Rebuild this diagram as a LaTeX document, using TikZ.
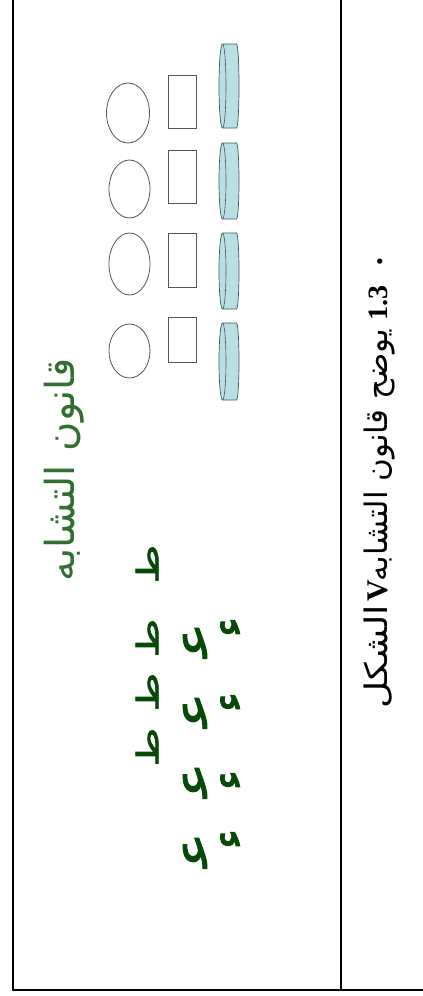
\documentclass[tikz,border=0pt]{standalone}
\usepackage{fontspec}
\setmainfont{Liberation Serif}
\newfontfamily\arabicfont[Script=Arabic]{DejaVu Sans}
\newfontfamily\arabicbold[Script=Arabic, FakeBold=2]{DejaVu Sans}
\TeXXeTstate=1
\definecolor{titlegreen}{RGB}{50,110,50}
\definecolor{lettergreen}{RGB}{8,72,8}
\definecolor{cylfill}{RGB}{184,224,228}
\definecolor{cylline}{RGB}{60,90,90}
\definecolor{shapeline}{RGB}{85,85,85}
\tikzset{
  tableline/.style={line width=1.5pt, black},
  circ/.style={draw=shapeline, line width=0.8pt},
  sq/.style={draw=shapeline, line width=0.9pt},
  cyl/.style={draw=cylline, fill=cylfill, line width=0.7pt},
  cylin/.style={draw=cylline, line width=0.6pt},
  letter/.style={rotate=90, inner sep=0pt, text=lettergreen, font=\arabicbold\fontsize{30}{30}\selectfont},
  ainletter/.style={rotate=90, inner sep=0pt, text=lettergreen, font=\arabicbold\fontsize{46}{46}\selectfont},
  hamza/.style={rotate=90, inner sep=0pt, text=lettergreen, font=\arabicbold\fontsize{44}{44}\selectfont},
  ttl/.style={rotate=90, inner sep=0pt, text=titlegreen, font=\arabicfont\fontsize{40}{40}\selectfont},
  captext/.style={rotate=90, inner sep=0pt, anchor=base, font=\arabicfont\fontsize{31}{31}\selectfont},
  capnum/.style={rotate=90, inner sep=0pt, anchor=base, font=\bfseries\fontsize{28}{28}\selectfont},
}
\begin{document}
\begin{tikzpicture}[x=1pt, y=-1pt]
\useasboundingbox (0,0) rectangle (423,996);
\fill[white] (0,0) rectangle (423,996);

% table lines
\coordinate (tl) at (13,0);
\coordinate (bl) at (13,990);
\coordinate (tm) at (341,0);
\coordinate (bm) at (341,990);
\coordinate (br) at (423,990);
\draw[tableline] (tl) -- (bl) -- (br);
\draw[tableline] (tm) -- (bm);

% circles
\draw[circ] (128,113) ellipse [x radius=21.5, y radius=30];
\draw[circ] (129.5,189) ellipse [x radius=20.5, y radius=29];
\draw[circ] (129.5,264) ellipse [x radius=20.5, y radius=31];
\draw[circ] (129.5,351) ellipse [x radius=20.5, y radius=27];

% rectangles
\draw[sq] (168,75) rectangle (196,128);
\draw[sq] (168,150) rectangle (196,203);
\draw[sq] (168,233) rectangle (196,287);
\draw[sq] (168,317) rectangle (196,362);

% cylinders
\foreach \ya/\yb in {44/128, 143/219, 233/309, 323/400}{
  \pgfmathsetmacro{\hh}{(\yb-\ya)/2}
  \draw[cyl] (222.5,\ya) -- (236.5,\ya)
     arc[start angle=-90, end angle=90, x radius=2.5, y radius=\hh]
     -- (222.5,\yb)
     arc[start angle=90, end angle=270, x radius=3.5, y radius=\hh] -- cycle;
  \draw[cylin] (222.5,\ya) arc[start angle=-90, end angle=90, x radius=3.5, y radius=\hh];
}

% title
\node[ttl] (title) at (64,470) {\beginR قانون\hspace{14pt}التشابه\endR};

% letters
\node[letter] (t1) at (147,564) {\scalebox{1.4}[1]{\beginR ط\endR}};
\node[letter] (t2) at (147,638) {\scalebox{1.4}[1]{\beginR ط\endR}};
\node[letter] (t3) at (147,692) {\scalebox{1.4}[1]{\beginR ط\endR}};
\node[letter] (t4) at (147,747) {\scalebox{1.4}[1]{\beginR ط\endR}};
\node[ainletter] (a1) at (195,640) {\scalebox{1.3}[1]{\beginR ﻋ\endR}};
\node[ainletter] (a2) at (195,710) {\scalebox{1.3}[1]{\beginR ﻋ\endR}};
\node[ainletter] (a3) at (195,780) {\scalebox{1.3}[1]{\beginR ﻋ\endR}};
\node[ainletter] (a4) at (195,850) {\scalebox{1.3}[1]{\beginR ﻋ\endR}};
\node[hamza] (h1) at (231,627) {\beginR ء\endR};
\node[hamza] (h2) at (231,702) {\beginR ء\endR};
\node[hamza] (h3) at (231,780) {\beginR ء\endR};
\node[hamza] (h4) at (231,839) {\beginR ء\endR};

% caption
\node[capnum, font=\fontsize{22}{22}\selectfont] (bul) at (387,262) {\textbullet};
\node[capnum] (num) at (387,303) {1.3};
\node[captext] (c1) at (387,455) {\beginR يوضح قانون التشابه\endR};
\node[capnum, font=\bfseries\fontsize{30}{30}\selectfont] (vv) at (387,591) {V};
\node[captext] (c3) at (387,657) {\scalebox{1.2}[1]{\beginR الشكل\endR}};
\end{tikzpicture}
\end{document}
